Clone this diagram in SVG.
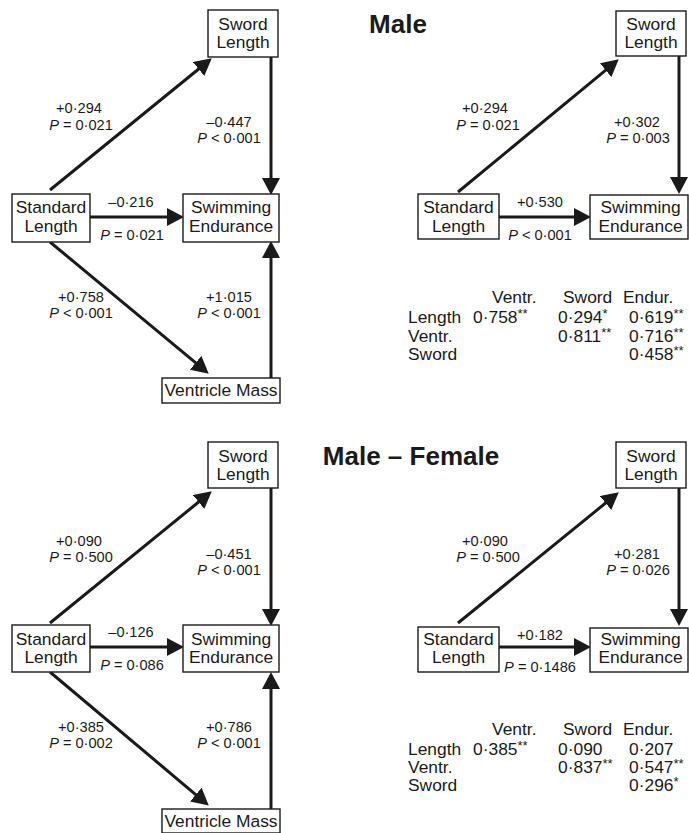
<svg xmlns="http://www.w3.org/2000/svg" width="689" height="833" viewBox="0 0 689 833">
<style>
text{font-family:"Liberation Sans",Arial,sans-serif;fill:#1a1a1a}
.box rect{fill:#fff;stroke:#1a1a1a;stroke-width:1.4}
.box text{font-size:17.4px;text-anchor:middle}
.lbl{font-size:14.6px;text-anchor:middle}
.lbl tspan.i{font-style:italic}
.tbl{font-size:17.4px}
.st{font-size:13px}
.title{font-size:26px;font-weight:bold;text-anchor:middle}
#connectors line{stroke:#1a1a1a;stroke-width:3;marker-end:url(#ah)}
</style>
<defs>
<marker id="ah" markerUnits="userSpaceOnUse" markerWidth="17" markerHeight="18" refX="8" refY="9" orient="auto">
<path d="M0,0 L17,9 L0,18 Z" fill="#1a1a1a"/>
</marker>
</defs>
<rect width="689" height="833" fill="#fff"/>
<text class="title" x="398" y="33">Male</text>
<text class="title" x="411" y="465">Male – Female</text>

<g id="connectors">
<line x1="50" y1="190" x2="204.8" y2="64"/>
<line x1="271" y1="57" x2="271" y2="186"/>
<line x1="90" y1="217" x2="175" y2="217"/>
<line x1="50" y1="242" x2="201.8" y2="367.9"/>
<line x1="271" y1="378" x2="271" y2="250"/>
<line x1="458" y1="192" x2="611.8" y2="65.1"/>
<line x1="679" y1="56" x2="679" y2="185"/>
<line x1="499" y1="217" x2="582" y2="217"/>
<line x1="50" y1="623" x2="204.8" y2="497"/>
<line x1="271" y1="488" x2="271" y2="617"/>
<line x1="90" y1="647" x2="175" y2="647"/>
<line x1="50" y1="672" x2="201.9" y2="799.8"/>
<line x1="271" y1="809" x2="271" y2="681"/>
<line x1="458" y1="623" x2="611.8" y2="498"/>
<line x1="679" y1="488" x2="679" y2="617"/>
<line x1="499" y1="647" x2="582" y2="647"/>
</g>

<g id="tl-sword" class="box"><rect x="208" y="10" width="70" height="47"/><text x="243" y="30">Sword</text><text x="243" y="48">Length</text></g>
<g id="tl-standard" class="box"><rect x="12" y="194" width="78" height="48"/><text x="51" y="213">Standard</text><text x="51" y="232">Length</text></g>
<g id="tl-swim" class="box"><rect x="183" y="194" width="96" height="48"/><text x="231" y="213">Swimming</text><text x="231" y="232">Endurance</text></g>
<g id="tl-ventricle" class="box"><rect x="162" y="378" width="118" height="25"/><text x="221" y="396">Ventricle Mass</text></g>

<text class="lbl" x="79" y="113">+0·294</text>
<text class="lbl" x="81" y="130"><tspan class="i">P</tspan> = 0·021</text>
<text class="lbl" x="229" y="127">–0·447</text>
<text class="lbl" x="229" y="143"><tspan class="i">P</tspan> &lt; 0·001</text>
<text class="lbl" x="131" y="207">–0·216</text>
<text class="lbl" x="132" y="240"><tspan class="i">P</tspan> = 0·021</text>
<text class="lbl" x="81" y="302">+0·758</text>
<text class="lbl" x="81" y="318"><tspan class="i">P</tspan> &lt; 0·001</text>
<text class="lbl" x="229" y="302">+1·015</text>
<text class="lbl" x="229" y="318"><tspan class="i">P</tspan> &lt; 0·001</text>

<g id="tr-sword" class="box"><rect x="616" y="11" width="70" height="45"/><text x="651" y="30">Sword</text><text x="651" y="48">Length</text></g>
<g id="tr-standard" class="box"><rect x="418" y="194" width="81" height="45"/><text x="458.5" y="213">Standard</text><text x="458.5" y="232">Length</text></g>
<g id="tr-swim" class="box"><rect x="590" y="195" width="98" height="44"/><text x="640.5" y="213">Swimming</text><text x="640.5" y="232">Endurance</text></g>

<text class="lbl" x="485" y="113">+0·294</text>
<text class="lbl" x="488" y="130"><tspan class="i">P</tspan> = 0·021</text>
<text class="lbl" x="637" y="127">+0·302</text>
<text class="lbl" x="638" y="143"><tspan class="i">P</tspan> = 0·003</text>
<text class="lbl" x="540" y="207">+0·530</text>
<text class="lbl" x="540" y="240"><tspan class="i">P</tspan> &lt; 0·001</text>

<g class="tbl">
<text x="492" y="303">Ventr.</text><text x="563" y="303">Sword</text><text x="623" y="303">Endur.</text>
<text x="408" y="323">Length</text><text x="473" y="323">0·758<tspan class="st" dy="-5">**</tspan></text><text x="558" y="323">0·294<tspan class="st" dy="-5">*</tspan></text><text x="629" y="323">0·619<tspan class="st" dy="-5">**</tspan></text>
<text x="408" y="342">Ventr.</text><text x="558" y="342">0·811<tspan class="st" dy="-5">**</tspan></text><text x="629" y="342">0·716<tspan class="st" dy="-5">**</tspan></text>
<text x="408" y="360">Sword</text><text x="629" y="360">0·458<tspan class="st" dy="-5">**</tspan></text>
</g>

<g id="bl-sword" class="box"><rect x="208" y="442" width="70" height="46"/><text x="243" y="462">Sword</text><text x="243" y="480">Length</text></g>
<g id="bl-standard" class="box"><rect x="12" y="625" width="78" height="47"/><text x="51" y="645">Standard</text><text x="51" y="663">Length</text></g>
<g id="bl-swim" class="box"><rect x="183" y="625" width="96" height="47"/><text x="231" y="645">Swimming</text><text x="231" y="663">Endurance</text></g>
<g id="bl-ventricle" class="box"><rect x="162" y="809" width="118" height="24"/><text x="221" y="827">Ventricle Mass</text></g>

<text class="lbl" x="79" y="546">+0·090</text>
<text class="lbl" x="81" y="562"><tspan class="i">P</tspan> = 0·500</text>
<text class="lbl" x="229" y="559">–0·451</text>
<text class="lbl" x="229" y="575"><tspan class="i">P</tspan> &lt; 0·001</text>
<text class="lbl" x="131" y="637">–0·126</text>
<text class="lbl" x="132" y="670"><tspan class="i">P</tspan> = 0·086</text>
<text class="lbl" x="81" y="732">+0·385</text>
<text class="lbl" x="81" y="748"><tspan class="i">P</tspan> = 0·002</text>
<text class="lbl" x="229" y="732">+0·786</text>
<text class="lbl" x="229" y="748"><tspan class="i">P</tspan> &lt; 0·001</text>

<g id="br-sword" class="box"><rect x="616" y="442" width="70" height="46"/><text x="651" y="462">Sword</text><text x="651" y="480">Length</text></g>
<g id="br-standard" class="box"><rect x="418" y="627" width="81" height="45"/><text x="458.5" y="645">Standard</text><text x="458.5" y="663">Length</text></g>
<g id="br-swim" class="box"><rect x="590" y="628" width="98" height="44"/><text x="640.5" y="645">Swimming</text><text x="640.5" y="663">Endurance</text></g>

<text class="lbl" x="485" y="546">+0·090</text>
<text class="lbl" x="488" y="562"><tspan class="i">P</tspan> = 0·500</text>
<text class="lbl" x="637" y="559">+0·281</text>
<text class="lbl" x="638" y="575"><tspan class="i">P</tspan> = 0·026</text>
<text class="lbl" x="540" y="640">+0·182</text>
<text class="lbl" x="540" y="672"><tspan class="i">P</tspan> = 0·1486</text>

<g class="tbl">
<text x="492" y="735">Ventr.</text><text x="563" y="735">Sword</text><text x="623" y="735">Endur.</text>
<text x="408" y="755">Length</text><text x="473" y="755">0·385<tspan class="st" dy="-5">**</tspan></text><text x="558" y="755">0·090</text><text x="629" y="755">0·207</text>
<text x="408" y="773">Ventr.</text><text x="558" y="773">0·837<tspan class="st" dy="-5">**</tspan></text><text x="629" y="773">0·547<tspan class="st" dy="-5">**</tspan></text>
<text x="408" y="791">Sword</text><text x="629" y="791">0·296<tspan class="st" dy="-5">*</tspan></text>
</g>
</svg>
